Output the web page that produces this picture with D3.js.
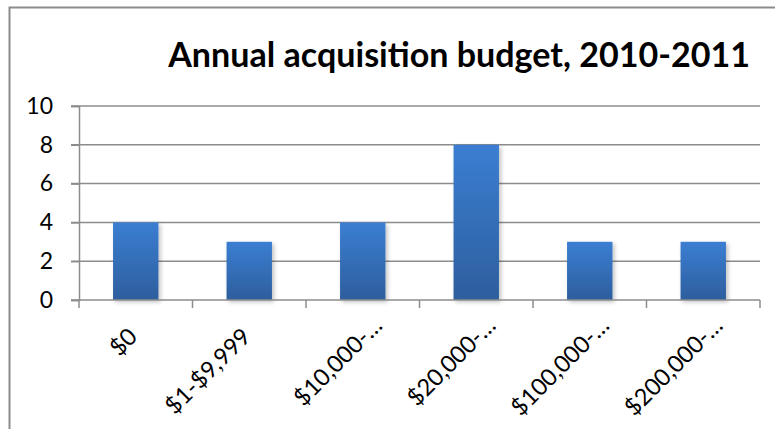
<!DOCTYPE html>
<html>
<head>
<meta charset="utf-8">
<script src="https://cdn.jsdelivr.net/npm/d3@7"></script>
<style>
  body { margin: 0; background: #fff; }
  svg { display: block; font-family: Lato, "Open Sans", sans-serif; }
</style>
</head>
<body>
<svg id="chart" width="775" height="429"></svg>
<script>
var CATEGORIES = ['$0', '$1-$9,999', '$10,000-\u2026', '$20,000-\u2026', '$100,000-\u2026', '$200,000-\u2026'];
var VALUES = [4, 3, 4, 8, 3, 3];
var Y_TICKS = [0, 2, 4, 6, 8, 10];
var TITLE = 'Annual acquisition budget, 2010-2011';

var svg = d3.select('#chart');
var margin = { top: 106, left: 79, right: 15, bottom: 129 };
var width = 775 - margin.left - margin.right;   // 681
var height = 429 - margin.top - margin.bottom;  // ~194

// chart frame (only top and left edges show inside the window)
svg.append('path')
    .attr('d', 'M9.5,429 L9.5,7.5 L775,7.5')
    .attr('fill', 'none')
    .attr('stroke', '#8c8c8c')
    .attr('stroke-width', 2);

var defs = svg.append('defs');
var grad = defs.append('linearGradient')
    .attr('id', 'barGrad')
    .attr('x1', 0).attr('y1', 0).attr('x2', 0).attr('y2', 1);
grad.append('stop').attr('offset', '0%').attr('stop-color', '#3b7ed2');
grad.append('stop').attr('offset', '100%').attr('stop-color', '#2d5e9d');

var shadow = defs.append('filter').attr('id', 'shadow')
    .attr('x', '-20%').attr('y', '-10%').attr('width', '150%').attr('height', '130%');
shadow.append('feDropShadow')
    .attr('dx', 2).attr('dy', 2).attr('stdDeviation', 2)
    .attr('flood-color', '#000').attr('flood-opacity', 0.25);

var title = svg.append('text')
    .attr('x', 750)
    .attr('y', 67)
    .attr('text-anchor', 'end')
    .attr('font-weight', 'bold')
    .attr('font-size', 30)
    .attr('fill', '#000')
    .text(TITLE);
// fit the title to the width it spans in the reference
var tl = title.node().getComputedTextLength();
title.attr('font-size', 30 * 582 / tl);

var g = svg.append('g')
    .attr('transform', 'translate(' + margin.left + ',' + margin.top + ')');

var x = d3.scaleBand()
    .domain(CATEGORIES)
    .range([0, width])
    .paddingInner(0.6)
    .paddingOuter(0.3);

var y = d3.scaleLinear()
    .domain([0, 10])
    .range([height, 0]);

// gridlines
g.append('g')
    .selectAll('line')
    .data(Y_TICKS.filter((d) => d > 0))
  .enter().append('line')
    .attr('x1', -8)
    .attr('x2', width)
    .attr('y1', (d) => y(d))
    .attr('y2', (d) => y(d))
    .attr('stroke', '#8c8c8c')
    .attr('stroke-width', 1.5);

// y axis
var yAxis = g.append('g')
    .call(d3.axisLeft(y).tickValues(Y_TICKS).tickSize(8).tickPadding(18));
yAxis.select('.domain').attr('stroke', '#8c8c8c').attr('stroke-width', 1.5);
yAxis.selectAll('.tick line').attr('stroke', '#8c8c8c').attr('stroke-width', 1.5);
yAxis.selectAll('.tick text')
    .attr('font-size', 23)
    .attr('font-family', 'Lato, sans-serif')
    .attr('fill', '#000');

// bars
g.selectAll('.bar')
    .data(VALUES)
  .enter().append('rect')
    .attr('class', 'bar')
    .attr('x', (d, i) => x(CATEGORIES[i]))
    .attr('width', x.bandwidth())
    .attr('y', (d) => y(d))
    .attr('height', (d) => height - y(d))
    .attr('fill', 'url(#barGrad)')
    .attr('filter', 'url(#shadow)');

// x axis line and boundary ticks
var step = x.step();
var bounds = d3.range(CATEGORIES.length + 1).map((i) => i * step);
g.append('line')
    .attr('x1', -8).attr('x2', width)
    .attr('y1', height).attr('y2', height)
    .attr('stroke', '#8c8c8c').attr('stroke-width', 1.5);
g.append('g')
    .selectAll('line')
    .data(bounds)
  .enter().append('line')
    .attr('x1', (d) => d).attr('x2', (d) => d)
    .attr('y1', height).attr('y2', height + 8)
    .attr('stroke', '#8c8c8c').attr('stroke-width', 1.5);

// rotated category labels; truncated ones sit a bit further up and right
function labelPos(d) {
  var cut = d.slice(-1) === '\u2026';
  var px = x(d) + x.bandwidth() / 2 + (cut ? 21 : 3);
  var py = height + (cut ? 27 : 38);
  return 'translate(' + px + ',' + py + ') rotate(-45)';
}

g.append('g')
    .selectAll('text')
    .data(CATEGORIES)
  .enter().append('text')
    .attr('transform', labelPos)
    .attr('text-anchor', 'end')
    .attr('font-size', 23.5)
    .attr('fill', '#000')
    .text((d) => d);
</script>
</body>
</html>
